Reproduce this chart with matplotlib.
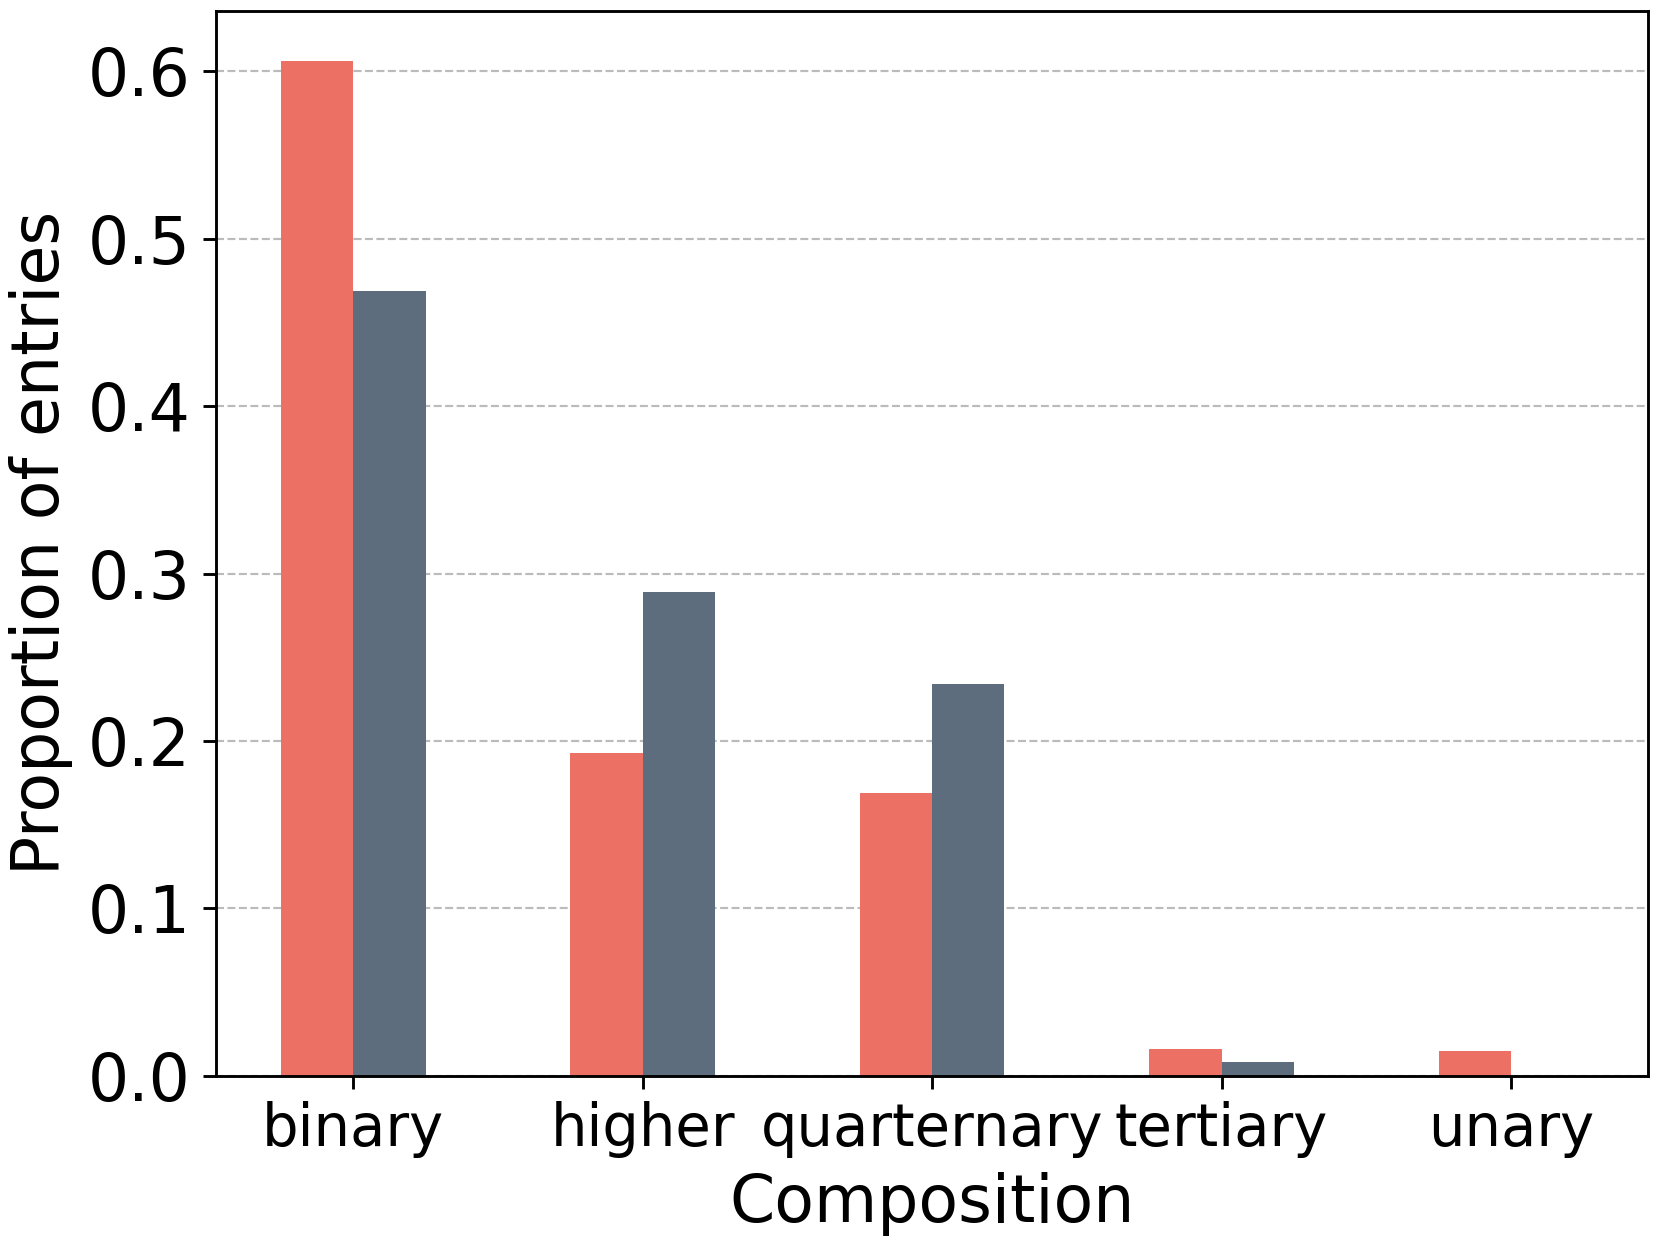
import numpy as np
import matplotlib
matplotlib.use('Agg')
import matplotlib.pyplot as plt

categories = ['binary', 'higher', 'quarternary', 'tertiary', 'unary']
series_a = [0.606, 0.193, 0.169, 0.016, 0.015]
series_b = [0.469, 0.289, 0.234, 0.008, 0.0]

color_a = '#EC7063'
color_b = '#5D6D7E'

fig = plt.figure(figsize=(1660 / 259.4, 1245 / 259.4), dpi=259.4)
ax = fig.add_axes([0.130, 0.136, 0.863, 0.8555])

x = np.arange(len(categories))
width = 0.25
ax.bar(x - width / 2, series_a, width, color=color_a, zorder=2)
ax.bar(x + width / 2, series_b, width, color=color_b, zorder=2)

ax.set_xticks(x)
ax.set_xticklabels(categories, fontsize=16)
ax.set_yticks([0.0, 0.1, 0.2, 0.3, 0.4, 0.5, 0.6])
ax.tick_params(axis='y', labelsize=18)
ax.set_xlabel('Composition', fontsize=18)
ax.set_ylabel('Proportion of entries', fontsize=18)
ax.yaxis.grid(True, linestyle='--', color='#bbbbbb', linewidth=0.6, zorder=0)
ax.set_axisbelow(True)

fig.savefig('out.png', dpi=259.4)
